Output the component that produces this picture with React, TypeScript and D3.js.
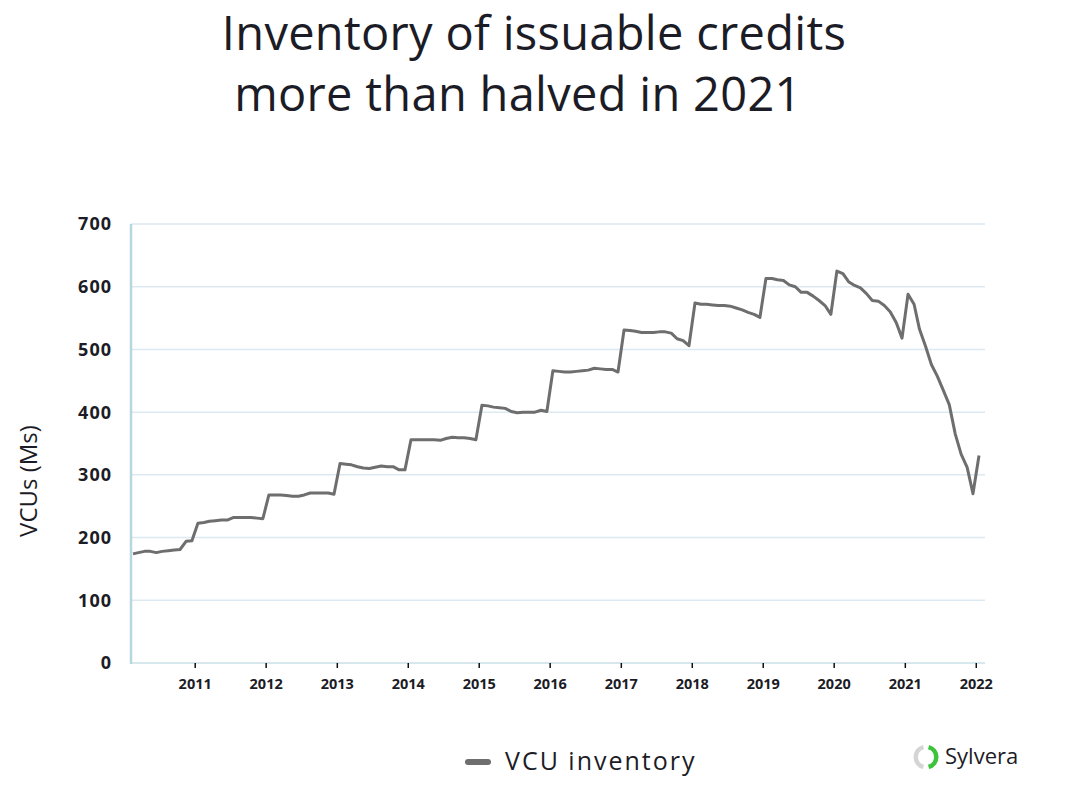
import React from "react";
import * as d3 from "d3";

const startYear = 2010;
const startMonth = 1; // February (0-based)
const inventory: number[] = [
  // 2010 Feb-Dec
  174, 176, 178, 178, 176, 178, 179, 180, 181, 194, 195,
  // 2011
  223, 224, 226, 227, 228, 228, 232, 232, 232, 232, 231, 230,
  // 2012
  268, 268, 268, 267, 266, 266, 268, 271, 271, 271, 271, 269,
  // 2013
  318, 317, 316, 313, 311, 310, 312, 314, 313, 313, 308, 308,
  // 2014
  356, 356, 356, 356, 356, 355, 358, 360, 359, 359, 358, 356,
  // 2015
  411, 410, 408, 407, 406, 401, 399, 400, 400, 400, 403, 401,
  // 2016
  466, 465, 464, 464, 465, 466, 467, 470, 469, 468, 468, 464,
  // 2017
  531, 530, 529, 527, 527, 527, 528, 528, 526, 517, 514, 506,
  // 2018
  574, 572, 572, 571, 570, 570, 569, 566, 563, 559, 556, 551,
  // 2019
  613, 613, 611, 610, 603, 600, 591, 591, 585, 578, 570, 556,
  // 2020
  625, 621, 608, 602, 598, 589, 578, 577, 570, 560, 543, 518,
  // 2021
  588, 572, 532, 505, 476, 457, 435, 412, 365, 333, 312, 270,
  // 2022 Jan
  331,
];
const yearTicks: number[] = [2011, 2012, 2013, 2014, 2015, 2016, 2017, 2018, 2019, 2020, 2021, 2022];
const yTicks: number[] = [0, 100, 200, 300, 400, 500, 600, 700];
const titleLines: string[] = ["Inventory of issuable credits", "more than halved in 2021"];
const yAxisTitle = "VCUs (Ms)";
const seriesName = "VCU inventory";

const data = inventory.map((v, i) => ({ date: new Date(startYear, startMonth + i, 15), value: v }));

export default function App() {
  const W = 1080;
  const H = 794;
  const x = d3
    .scaleTime()
    .domain([data[0].date, data[data.length - 1].date])
    .range([133, 979]);
  const y = d3.scaleLinear().domain([0, 700]).range([663, 224]);
  const left = 131;
  const right = 985;
  const line = d3
    .line<{ date: Date; value: number }>()
    .x((d) => x(d.date))
    .y((d) => y(d.value))
    .curve(d3.curveLinear);
  const font = "'Open Sans', Lato, sans-serif";
  const dark = "#1c1c26";

  return (
    <svg width={W} height={H} style={{ position: "absolute", left: 0, top: 0, background: "#fff" }}>
      <rect width={W} height={H} fill="#fff" />
      {/* title */}
      <text x={534} y={50} textAnchor="middle" fontFamily={font} fontSize={47} fontWeight={500} fill={dark} letterSpacing={0.3}>
        {titleLines[0]}
      </text>
      <text x={518} y={111} textAnchor="middle" fontFamily={font} fontSize={47} fontWeight={500} fill={dark} letterSpacing={0.3}>
        {titleLines[1]}
      </text>

      {/* grid */}
      {yTicks
        .filter((t) => t > 0)
        .map((t) => (
          <line key={t} x1={left} x2={right} y1={y(t)} y2={y(t)} stroke="#dde9f1" strokeWidth={1.5} />
        ))}
      {/* x axis line */}
      <line x1={left} x2={right} y1={y(0)} y2={y(0)} stroke="#c9dfe9" strokeWidth={1.5} />
      {/* y axis line */}
      <line x1={left} x2={left} y1={y(700)} y2={y(0) + 1} stroke="#b6d6e2" strokeWidth={2.5} />

      {/* y tick labels */}
      {yTicks.map((t) => (
        <text
          key={t}
          x={112}
          y={y(t)}
          dy="0.36em"
          textAnchor="end"
          fontFamily={font}
          fontWeight={700}
          fontSize={18}
          letterSpacing={1}
          fill={dark}
        >
          {t}
        </text>
      ))}
      {/* x ticks */}
      {yearTicks.map((yr) => {
        const xx = x(new Date(yr, 0, 1));
        return (
          <g key={yr}>
            <line x1={xx} x2={xx} y1={y(0)} y2={y(0) + 5} stroke="#111" strokeWidth={1.5} />
            <text
              x={xx}
              y={689}
              textAnchor="middle"
              fontFamily={font}
              fontWeight={700}
              fontSize={14.5}
              fill={dark}
            >
              {yr}
            </text>
          </g>
        );
      })}

      {/* y axis title */}
      <text
        transform={`translate(37,${481}) rotate(-90)`}
        textAnchor="middle"
        fontFamily={font}
        fontSize={24}
        fill={dark}
      >
        {yAxisTitle}
      </text>

      {/* line */}
      <path d={line(data) || ""} fill="none" stroke="#6e6e6e" strokeWidth={3} strokeLinejoin="round" />

      {/* legend */}
      <line x1={468} x2={488} y1={762} y2={762} stroke="#6e6e6e" strokeWidth={6} strokeLinecap="round" />
      <text x={505} y={770} fontFamily={font} fontSize={25} letterSpacing={2} fill={dark}>
        {seriesName}
      </text>

      {/* logo */}
      <g transform="translate(926,757)">
        <path
          d={d3.arc()({ innerRadius: 8, outerRadius: 12.5, startAngle: Math.PI * 1.08, endAngle: Math.PI * 1.92 }) || ""}
          fill="#d5d5d5"
        />
        <path
          d={d3.arc()({ innerRadius: 8, outerRadius: 12.5, startAngle: Math.PI * 0.08, endAngle: Math.PI * 0.92 }) || ""}
          fill="#3cc43c"
        />
      </g>
      <text x={945} y={764} fontFamily={font} fontSize={22} fill={dark}>
        Sylvera
      </text>
    </svg>
  );
}
